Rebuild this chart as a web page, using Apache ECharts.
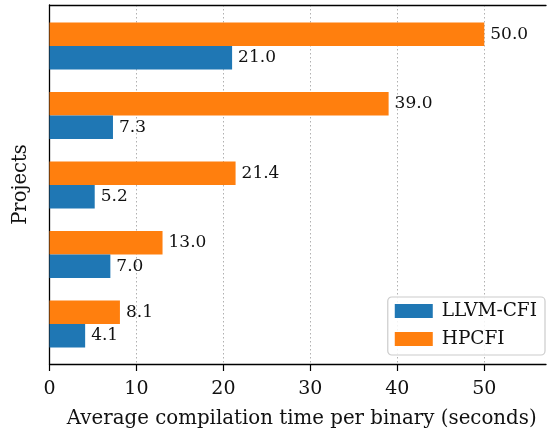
<!DOCTYPE html>
<html>
<head>
<meta charset="utf-8">
<script src="https://cdn.jsdelivr.net/npm/echarts@6/dist/echarts.min.js"></script>
<style>html,body{margin:0;padding:0;background:#fff;}#c{width:548px;height:434px;}</style>
</head>
<body>
<div id="c"></div>
<script>
// Data (top group first)
const categories = ['Project 1', 'Project 2', 'Project 3', 'Project 4', 'Project 5'];
const hpcfi = [50.0, 39.0, 21.4, 13.0, 8.1];
const llvmCfi = [21.0, 7.3, 5.2, 7.0, 4.1];
const xTicks = [0, 10, 20, 30, 40, 50];
const seriesNames = ['LLVM-CFI', 'HPCFI'];

const FONT = 'DejaVu Serif';
const XMAX = 57.1;
const chart = echarts.init(document.getElementById('c'), null, {renderer: 'canvas'});

const option = {
  animation: false,
  textStyle: {fontFamily: FONT},
  grid: [
    {left: 49.5, right: 2, top: 5, height: 359},
    {left: 49.5, right: 2, top: 11.25, height: 347.5}
  ],
  xAxis: [
    {
      gridIndex: 0, type: 'value', min: 0, max: XMAX, interval: 10, position: 'bottom',
      axisLine: {show: true, lineStyle: {color: '#000', width: 1.3}},
      axisTick: {show: true, length: 7, lineStyle: {color: '#000', width: 1.2}, customValues: xTicks},
      axisLabel: {color: '#111', fontSize: 19, fontFamily: FONT, margin: 16, customValues: xTicks},
      splitLine: {show: true, lineStyle: {color: '#b0b0b0', width: 1, type: [1.5, 2.5]}},
      name: 'Average compilation time per binary (seconds)',
      nameLocation: 'middle', nameGap: 45,
      nameTextStyle: {color: '#111', fontSize: 19.8, fontFamily: FONT, padding: [0, 0, 0, 8]}
    },
    {
      gridIndex: 0, type: 'value', min: 0, max: XMAX, position: 'top',
      axisLine: {show: true, lineStyle: {color: '#000', width: 1.3}},
      axisTick: {show: false}, axisLabel: {show: false}, splitLine: {show: false}
    },
    {
      gridIndex: 1, type: 'value', min: 0, max: XMAX, show: false
    }
  ],
  yAxis: [
    {
      gridIndex: 0, type: 'value', min: 0, max: 1,
      axisLine: {show: true, lineStyle: {color: '#000', width: 1.3}},
      axisTick: {show: false}, axisLabel: {show: false}, splitLine: {show: false},
      name: 'Projects', nameLocation: 'middle', nameGap: 19,
      nameTextStyle: {color: '#111', fontSize: 19.5, fontFamily: FONT}
    },
    {
      gridIndex: 1, type: 'category', data: categories, inverse: true, show: false
    }
  ],
  legend: {
    data: seriesNames,
    orient: 'vertical',
    right: 3, top: 297,
    itemWidth: 38, itemHeight: 14, itemGap: 6,
    padding: [3, 8, 5, 7],
    backgroundColor: 'rgba(255,255,255,0.85)',
    borderColor: '#cccccc', borderWidth: 1.2, borderRadius: 4,
    textStyle: {fontFamily: FONT, fontSize: 18.5, color: '#111', lineHeight: 22, padding: [0, 0, 0, 4]},
    icon: 'rect'
  },
  series: [
    {
      name: seriesNames[1], type: 'bar', xAxisIndex: 2, yAxisIndex: 1,
      data: hpcfi, barWidth: 23.5, barGap: '0%',
      itemStyle: {color: '#ff7f0e'},
      label: {show: true, position: 'right', distance: 6, formatter: p => p.value.toFixed(1),
        fontFamily: FONT, fontSize: 17, color: '#111'}
    },
    {
      name: seriesNames[0], type: 'bar', xAxisIndex: 2, yAxisIndex: 1,
      data: llvmCfi, barWidth: 23.5, barGap: '0%',
      itemStyle: {color: '#1f77b4'},
      label: {show: true, position: 'right', distance: 6, formatter: p => p.value.toFixed(1),
        fontFamily: FONT, fontSize: 17, color: '#111'}
    }
  ]
};
chart.setOption(option);
</script>
</body>
</html>
